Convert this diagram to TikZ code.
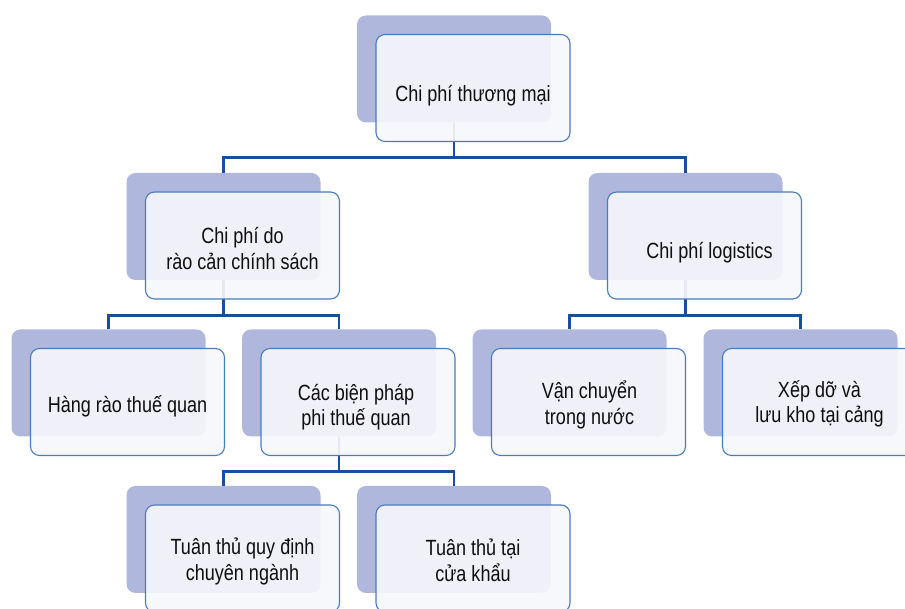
\documentclass[tikz,border=0pt]{standalone}
\usepackage{fontspec}
\setmainfont{Liberation Sans}[FakeStretch=0.82]
\definecolor{shadowcol}{RGB}{176,183,221}
\definecolor{bordercol}{RGB}{72,124,192}
\definecolor{frontcol}{RGB}{246,247,251}
\definecolor{conncol}{RGB}{24,78,160}
\definecolor{textcol}{RGB}{15,15,15}
\begin{document}
\begin{tikzpicture}[x=1pt,y=1pt,
  shadowbox/.style={rectangle, rounded corners=9pt, minimum width=194pt, minimum height=107pt, fill=shadowcol, draw=none, inner sep=0pt},
  frontbox/.style={rectangle, rounded corners=9pt, minimum width=194pt, minimum height=107pt, fill=frontcol, fill opacity=0.92, draw=bordercol, line width=1.1pt, inner sep=0pt},
  txt/.style={align=center, text=textcol, font=\fontsize{22}{25.5}\selectfont, inner sep=0pt},
  conn/.style={draw=conncol, line width=2.8pt}]
\useasboundingbox (0,0) rectangle (905,609);
\clip (0,0) rectangle (905,609);
% shadows
\node[shadowbox] (s1) at (454,540) {};
\node[shadowbox] (s2a) at (223.5,382.5) {};
\node[shadowbox] (s2b) at (685.5,382.5) {};
\node[shadowbox] (s3a) at (108.5,226) {};
\node[shadowbox] (s3b) at (339,226) {};
\node[shadowbox] (s3c) at (569.5,226) {};
\node[shadowbox] (s3d) at (800.5,226) {};
\node[shadowbox] (s4a) at (223.5,69.5) {};
\node[shadowbox] (s4b) at (454,69.5) {};
% connectors
\draw[conn] (s1.south) -- ++(0,-35) coordinate (j1);
\draw[conn] (j1) -| (s2a.north);
\draw[conn] (j1) -| (s2b.north);
\draw[conn] (s2a.south) -- ++(0,-35) coordinate (j2);
\draw[conn] (j2) -| (s3a.north);
\draw[conn] (j2) -| (s3b.north);
\draw[conn] (s2b.south) -- ++(0,-35) coordinate (j3);
\draw[conn] (j3) -| (s3c.north);
\draw[conn] (j3) -| (s3d.north);
\draw[conn] (s3b.south) -- ++(0,-35) coordinate (j4);
\draw[conn] (j4) -| (s4a.north);
\draw[conn] (j4) -| (s4b.north);
% front boxes
\node[frontbox] (f1) at (473,521) {};
\node[frontbox] (f2a) at (242.5,363.5) {};
\node[frontbox] (f2b) at (704.5,363.5) {};
\node[frontbox] (f3a) at (127.5,207) {};
\node[frontbox] (f3b) at (358,207) {};
\node[frontbox] (f3c) at (588.5,207) {};
\node[frontbox] (f3d) at (819.5,207) {};
\node[frontbox] (f4a) at (242.5,50.5) {};
\node[frontbox] (f4b) at (473,50.5) {};
% texts
\node[txt] (t1) at ([yshift=-8pt]f1.center) {Chi phí thương mại};
\node[txt] (t2a) at ([yshift=-3pt]f2a.center) {Chi phí do\\rào cản chính sách};
\node[txt] (t2b) at ([xshift=5pt,yshift=-7pt]f2b.center) {Chi phí logistics};
\node[txt] (t3a) at ([yshift=-4pt]f3a.center) {Hàng rào thuế quan};
\node[txt] (t3b) at ([xshift=-2pt,yshift=-5pt]f3b.center) {Các biện pháp\\phi thuế quan};
\node[txt] (t3c) at ([xshift=1pt,yshift=-3pt]f3c.center) {Vận chuyển\\trong nước};
\node[txt] (t3d) at ([yshift=-2pt]f3d.center) {Xếp dỡ và\\lưu kho tại cảng};
\node[txt] (t4a) at ([yshift=-3pt]f4a.center) {Tuân thủ quy định\\chuyên ngành};
\node[txt] (t4b) at ([yshift=-2pt]f4b.center) {Tuân thủ tại\\cửa khẩu};
\end{tikzpicture}
\end{document}
